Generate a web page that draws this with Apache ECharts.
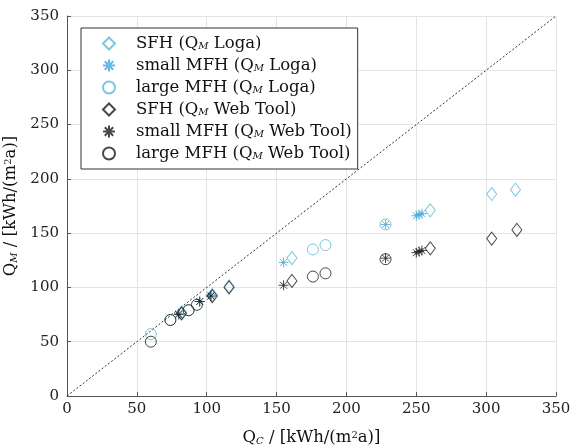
<!DOCTYPE html>
<html>
<head>
<meta charset="utf-8">
<script src="https://cdn.jsdelivr.net/npm/echarts@6/dist/echarts.min.js"></script>
<style>
html, body { margin: 0; padding: 0; background: #fff; }
#chart { width: 570px; height: 446px; }
</style>
</head>
<body>
<div id="chart"></div>
<script>
// Q_C (x) / Q_M (y) pairs, kWh/(m2a)
const logaSFH = [[82, 77], [104, 93], [116, 101], [161, 127], [260, 171], [304, 186], [321, 190]];
const logaSmall = [[80, 76], [95, 87], [103, 93], [155, 123], [228, 158], [250, 166], [252, 167], [254, 168]];
const logaLarge = [[60, 57], [74, 70], [87, 79], [176, 135], [185, 139], [228, 158]];
const webSFH = [[82, 76], [104, 92], [116, 100], [161, 106], [260, 136], [304, 145], [322, 153]];
const webSmall = [[80, 75], [95, 87], [103, 92], [155, 102], [228, 127], [250, 132], [252, 133], [254, 134]];
const webLarge = [[60, 50], [74, 70], [87, 79], [93, 84], [176, 110], [185, 113], [228, 126]];
const diagonal = [0, 350];
const axisTicks = [0, 50, 100, 150, 200, 250, 300, 350];

const legendNames = [
  '{p|}{a|SFH (Q}{s|M}{a| Loga)}',
  '{p|}{a|small MFH (Q}{s|M}{a| Loga)}',
  '{p|}{a|large MFH (Q}{s|M}{a| Loga)}',
  '{p|}{a|SFH (Q}{s|M}{a| Web Tool)}',
  '{p|}{a|small MFH (Q}{s|M}{a| Web Tool)}',
  '{p|}{a|large MFH (Q}{s|M}{a| Web Tool)}'
];

const cyan = '#5ab9d6';
const cyanStar = '#3fa7e0';
const black = '#1a1a1a';
const serif = 'DejaVu Serif';
const star = 'path://M0,-1L0,1M-1,0L1,0M-0.7,-0.7L0.7,0.7M-0.7,0.7L0.7,-0.7';

const richText = {
  p: { width: 16 },
  a: { fontFamily: serif, fontSize: 16.5, color: '#111', lineHeight: 16 },
  s: { fontFamily: serif, fontSize: 10, fontStyle: 'italic', color: '#111', lineHeight: 6, verticalAlign: 'bottom' },
  sup: { fontFamily: serif, fontSize: 10, color: '#111', lineHeight: 8, verticalAlign: 'top' }
};

function scatter(name, data, symbol, size, color) {
  return {
    name: name,
    type: 'scatter',
    data: data,
    symbol: symbol,
    symbolSize: size,
    itemStyle: { color: 'rgba(0,0,0,0)', borderColor: color, borderWidth: 1 },
    emphasis: { disabled: true }
  };
}

const chart = echarts.init(document.getElementById('chart'));

const option = {
  animation: false,
  grid: { left: 67, right: 14, top: 16, bottom: 50, containLabel: false, outerBoundsMode: 'none' },
  legend: {
    orient: 'vertical',
    left: 81,
    top: 28,
    padding: [7, 6, 7, 21],
    itemWidth: 12,
    itemHeight: 12,
    itemGap: 5,
    backgroundColor: '#fff',
    borderColor: '#333',
    borderWidth: 1,
    borderRadius: 0,
    data: legendNames,
    textStyle: { rich: richText }
  },
  xAxis: {
    type: 'value',
    min: 0,
    max: 350,
    interval: 50,
    name: '{a|Q}{s|C}{a| / [kWh/(m}{sup|2}{a|a)]}',
    nameLocation: 'middle',
    nameGap: 34,
    nameTextStyle: { rich: richText },
    axisLine: { lineStyle: { color: '#555' } },
    axisTick: { inside: true, length: 4, lineStyle: { color: '#555' } },
    axisLabel: { fontFamily: serif, fontSize: 15, color: '#222', margin: 6 },
    splitLine: { show: true, lineStyle: { color: '#e4e4e4' } }
  },
  yAxis: {
    type: 'value',
    min: 0,
    max: 350,
    interval: 50,
    name: '{a|Q}{s|M}{a| / [kWh/(m}{sup|2}{a|a)]}',
    nameLocation: 'middle',
    nameGap: 40,
    nameRotate: 90,
    nameTextStyle: { rich: richText },
    axisLine: { show: true, lineStyle: { color: '#555' } },
    axisTick: { show: true, inside: true, length: 4, lineStyle: { color: '#555' } },
    axisLabel: { fontFamily: serif, fontSize: 15, color: '#222', margin: 8 },
    splitLine: { show: true, lineStyle: { color: '#e4e4e4' } }
  },
  series: [
    {
      type: 'line',
      data: [[diagonal[0], diagonal[0]], [diagonal[1], diagonal[1]]],
      symbol: 'none',
      silent: true,
      lineStyle: { color: '#333', width: 1, type: [2, 2] },
      z: 1
    },
    scatter(legendNames[0], logaSFH, 'diamond', [10, 13], cyan),
    scatter(legendNames[1], logaSmall, star, 10, cyanStar),
    scatter(legendNames[2], logaLarge, 'circle', 11, cyan),
    scatter(legendNames[3], webSFH, 'diamond', [10, 13], black),
    scatter(legendNames[4], webSmall, star, 10, black),
    scatter(legendNames[5], webLarge, 'circle', 11, black)
  ]
};

chart.setOption(option);
</script>
</body>
</html>
